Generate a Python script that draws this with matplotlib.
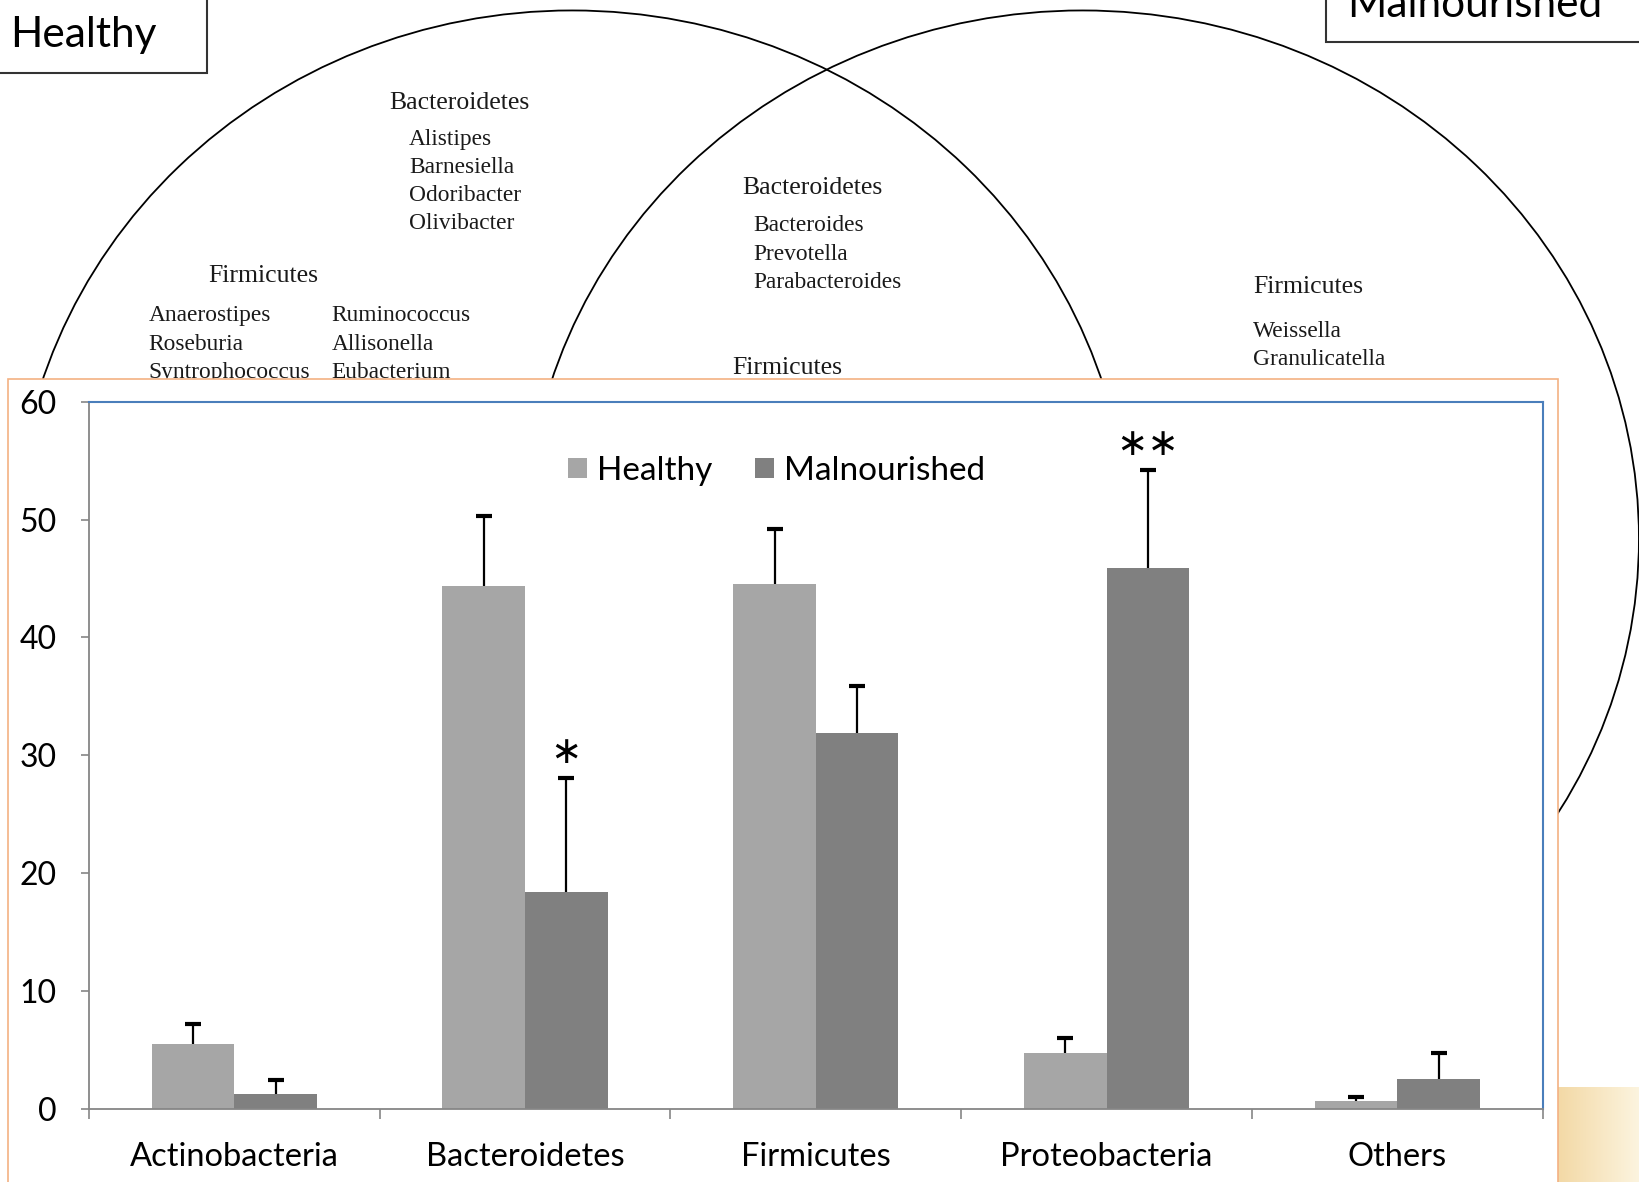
import numpy as np
import matplotlib.pyplot as plt
from matplotlib.patches import Ellipse, Rectangle
from matplotlib.colors import LinearSegmentedColormap

# bar chart data
categories = ['Actinobacteria', 'Bacteroidetes', 'Firmicutes', 'Proteobacteria', 'Others']
healthy = [5.5, 44.4, 44.5, 4.7, 0.7]
healthy_err = [1.7, 5.9, 4.7, 1.3, 0.3]
malnourished = [1.25, 18.4, 31.9, 45.9, 2.5]
malnourished_err = [1.15, 9.7, 4.0, 8.3, 2.2]
stars = ['', '∗', '', '∗∗', '']

# venn labels (x, y in picture units, text)
venn_heads = [(372, 98, 'Bacteroidetes'), (199, 264, 'Firmicutes'),
              (710, 180, 'Bacteroidetes'), (700, 352, 'Firmicutes'),
              (1198, 274, 'Firmicutes')]
venn_genus = [(391, 133, 'Alistipes'), (391, 160, 'Barnesiella'),
              (391, 187, 'Odoribacter'), (391, 214, 'Olivibacter'),
              (142, 302, 'Anaerostipes'), (142, 329, 'Roseburia'),
              (142, 356, 'Syntrophococcus'),
              (317, 302, 'Ruminococcus'), (317, 329, 'Allisonella'),
              (317, 356, 'Eubacterium'),
              (720, 216, 'Bacteroides'), (720, 243, 'Prevotella'),
              (720, 270, 'Parabacteroides'),
              (1198, 317, 'Weissella'), (1198, 344, 'Granulicatella')]

W, H = 1568, 1130
fig = plt.figure(figsize=(16.4, 11.82), dpi=100)
bg = fig.add_axes([0, 0, 1, 1])
bg.axis('off')

# venn shapes
bg.add_patch(Ellipse((547, 520), 1064, 1020, fill=False, ec='black', lw=1.3, zorder=1))
bg.add_patch(Ellipse((1035, 515), 1064, 1010, fill=False, ec='black', lw=1.3, zorder=1))

serif = 'Liberation Serif'
for x, y, t in venn_heads:
    bg.text(x, y, t, family=serif, fontsize=18.5, va='center', ha='left', color='#1a1a1a', zorder=2)
for x, y, t in venn_genus:
    bg.text(x, y, t, family=serif, fontsize=16.8, va='center', ha='left', color='#1a1a1a', zorder=2)

# group boxes
bg.add_patch(Rectangle((-5, -5), 203, 75, fc='white', ec='#333333', lw=1.5, zorder=3))
bg.text(10, 33, 'Healthy', family='Lato', fontsize=30.5, va='center', ha='left', zorder=4)
bg.add_patch(Rectangle((1268, -20), 320, 60, fc='white', ec='#333333', lw=1.5, zorder=3))
bg.text(1288, 5, 'Malnourished', family='Lato', fontsize=30.5, va='center', ha='left', zorder=4)

# beige corner
grad = np.linspace(0, 1, 50)[None, :] * np.ones((20, 1))
bg.imshow(grad, extent=(1490, W, H, 1040),
          cmap=LinearSegmentedColormap.from_list('b', ['#f3d9a6', '#fcf4df']),
          aspect='auto', zorder=3)
bg.set_xlim(0, W)
bg.set_ylim(H, 0)

# inset frame
bg.add_patch(Rectangle((8, 362), 1482, 800, fc='white', ec='#f4b183', lw=1.2, zorder=5))

# bar chart
ax = fig.add_axes([85 / W, 1 - 1060 / H, 1390 / W, 676 / H])
ax.set_facecolor('none')
x = np.arange(len(categories))
bw = 0.284
ax.bar(x - bw / 2, healthy, bw, color='#a6a6a6', label='Healthy')
ax.bar(x + bw / 2, malnourished, bw, color='#808080', label='Malnourished')
for xs, v, e in [(x - bw / 2, healthy, healthy_err), (x + bw / 2, malnourished, malnourished_err)]:
    eb = ax.errorbar(xs, v, yerr=[np.zeros(5), e], fmt='none', ecolor='black',
                     elinewidth=1.6, capsize=5.5, capthick=3)
    eb[1][0].set_visible(False)

for i, s in enumerate(stars):
    if s:
        ax.text(x[i] + bw / 2, malnourished[i] + malnourished_err[i] + 2.1, s,
                ha='center', va='center', fontsize=27, family='DejaVu Sans')

ax.set_xlim(-0.5, 4.5)
ax.set_ylim(0, 60)
ax.set_yticks(range(0, 61, 10))
ax.set_xticks(x)
ax.set_xticklabels(categories)
ax.set_xticks(np.arange(-0.5, 5, 1), minor=True)
ax.tick_params(axis='x', which='major', length=0, pad=24, labelsize=23.5)
ax.tick_params(axis='x', which='minor', length=7.5, width=1.2, color='#868686', direction='out')
ax.tick_params(axis='y', length=6, width=1.2, color='#868686', labelsize=23, pad=17)
for lab in ax.get_xticklabels() + ax.get_yticklabels():
    lab.set_family('Lato')
for s in ['left', 'bottom']:
    ax.spines[s].set_color('#868686')
    ax.spines[s].set_linewidth(1.3)
for s in ['top', 'right']:
    ax.spines[s].set_color('#4a7ebb')
    ax.spines[s].set_linewidth(1.5)

ax.legend(loc='center', bbox_to_anchor=(0.473, 0.902), ncol=2, frameon=False,
          prop=dict(family='Lato', size=24), handlelength=0.55, handleheight=0.55,
          handletextpad=0.3, columnspacing=1.3)

fig.savefig('out.png', dpi=100)
